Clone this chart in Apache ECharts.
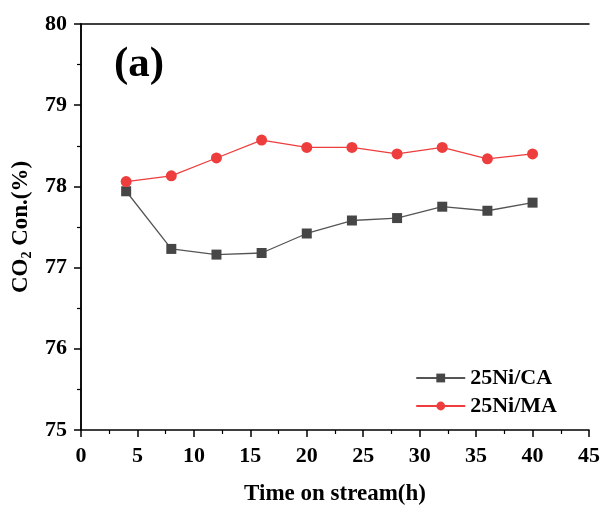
<!DOCTYPE html>
<html><head><meta charset="utf-8">
<script src="https://cdn.jsdelivr.net/npm/echarts@6/dist/echarts.min.js"></script>
<style>html,body{margin:0;padding:0;background:#fff}#c{width:603px;height:511px}</style>
</head><body><div id="c"></div>
<script>
const times = [4, 8, 12, 16, 20, 24, 28, 32, 36, 40];
const ca = [77.94, 77.23, 77.16, 77.18, 77.42, 77.58, 77.61, 77.75, 77.70, 77.80];
const ma = [78.06, 78.13, 78.35, 78.57, 78.48, 78.48, 78.40, 78.48, 78.34, 78.40];
const seriesNames = ['25Ni/CA', '25Ni/MA'];
const font = 'Liberation Serif, Times New Roman, serif';
const chart = echarts.init(document.getElementById('c'));
const pair = (xs, ys) => xs.map((x, i) => [x, ys[i]]);
const tickLabel = {fontFamily: font, fontWeight: 'bold', fontSize: 22, color: '#000'};
chart.setOption({
  animation: false,
  backgroundColor: '#fff',
  grid: {left: 81, right: 11, top: 24, bottom: 77},
  graphic: [{type: 'text', left: 114, top: 43, style: {text: '(a)', font: 'bold 43px ' + font, fill: '#000'}}],
  legend: {
    orient: 'vertical', right: 41, top: 362, itemWidth: 49, itemHeight: 11, itemGap: 6,
    textStyle: {fontFamily: font, fontWeight: 'bold', fontSize: 22, color: '#000'},
    data: seriesNames
  },
  xAxis: [{
    type: 'value', min: 0, max: 45, interval: 5,
    axisLine: {show: true, lineStyle: {color: '#000', width: 1.5}},
    axisTick: {show: true, inside: false, length: 7, lineStyle: {color: '#000', width: 1.5}},
    minorTick: {show: true, splitNumber: 2, length: 4, lineStyle: {color: '#000', width: 1.2}},
    splitLine: {show: false},
    axisLabel: Object.assign({margin: 15}, tickLabel),
    name: 'Time on stream(h)', nameLocation: 'middle', nameGap: 53,
    nameTextStyle: {fontFamily: font, fontWeight: 'bold', fontSize: 23, color: '#000'}
  }, {
    type: 'value', position: 'top', min: 0, max: 45,
    axisLine: {show: true, lineStyle: {color: '#000', width: 1.5}},
    axisTick: {show: false}, axisLabel: {show: false}, splitLine: {show: false}
  }],
  yAxis: [{
    type: 'value', min: 75, max: 80, interval: 1,
    axisLine: {show: true, lineStyle: {color: '#000', width: 1.5}},
    axisTick: {show: true, inside: false, length: 7, lineStyle: {color: '#000', width: 1.5}},
    minorTick: {show: true, splitNumber: 2, length: 4, lineStyle: {color: '#000', width: 1.2}},
    splitLine: {show: false},
    axisLabel: Object.assign({margin: 14}, tickLabel),
    name: '{a|CO}{s|2}{a| Con.(%)}', nameLocation: 'middle', nameGap: 43, nameRotate: 90,
    nameTextStyle: {
      rich: {
        a: {fontFamily: font, fontWeight: 'bold', fontSize: 23, color: '#000'},
        s: {fontFamily: font, fontWeight: 'bold', fontSize: 14, color: '#000', verticalAlign: 'bottom', padding: [12, 0, 0, 0]}
      }
    }
  }, {
    type: 'value', position: 'right', min: 75, max: 80,
    axisLine: {show: true, lineStyle: {color: '#000', width: 1.5}},
    axisTick: {show: false}, axisLabel: {show: false}, splitLine: {show: false}
  }],
  series: [{
    name: seriesNames[0], type: 'line', data: pair(times, ca),
    symbol: 'rect', symbolSize: 10,
    itemStyle: {color: '#464646'}, lineStyle: {color: '#555', width: 1.3}
  }, {
    name: seriesNames[1], type: 'line', data: pair(times, ma),
    symbol: 'circle', symbolSize: 11,
    itemStyle: {color: '#ee3d3d'}, lineStyle: {color: '#ee3d3d', width: 1.3}
  }]
});
</script></body></html>
